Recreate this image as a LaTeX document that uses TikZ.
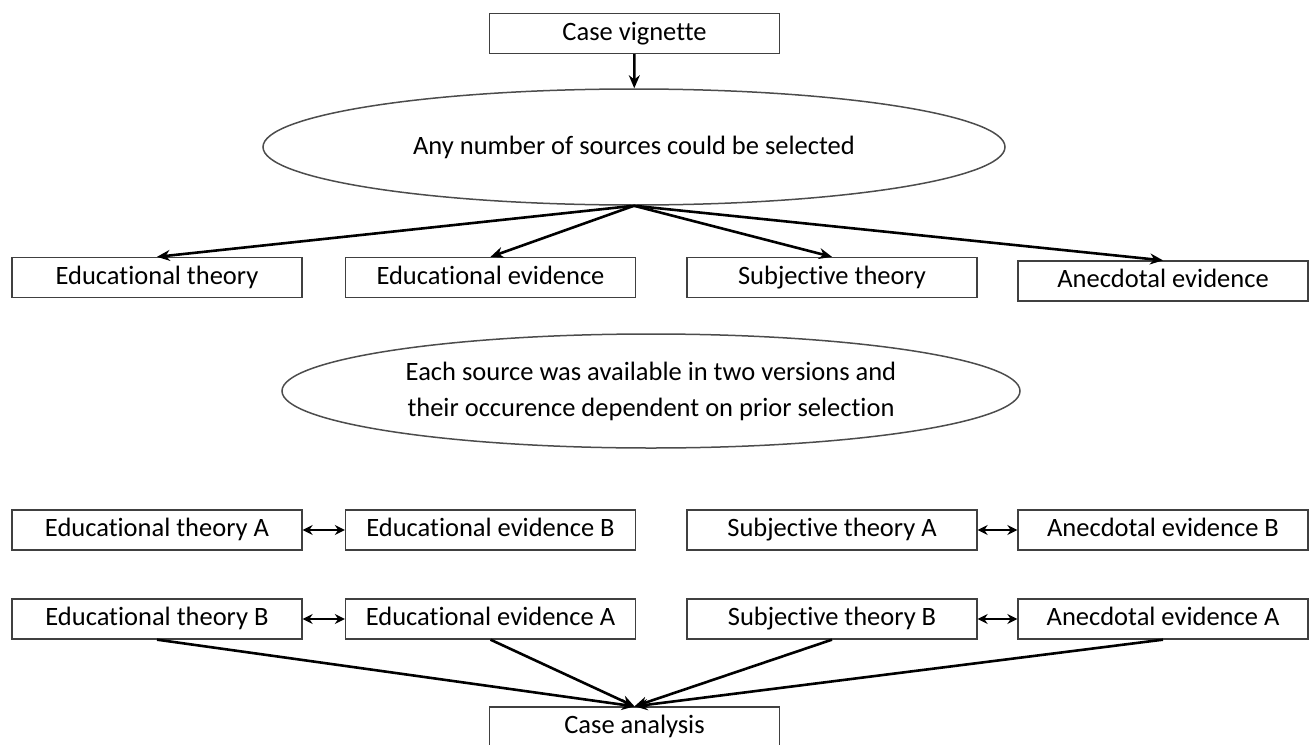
\documentclass[tikz,border=0pt]{standalone}
\usepackage{fontspec}
\setmainfont{Carlito}[Ligatures={NoCommon}]
\usetikzlibrary{shapes.geometric,arrows.meta}

\begin{document}
\begin{tikzpicture}[x=1pt,y=-1pt]
        \tikzset{box/.style={draw=black!75, line width=1.3pt, minimum width=290pt, minimum height=40pt, inner sep=0pt, text height=18pt, text depth=5pt, font=\fontsize{26.5}{36}\selectfont},
                 oval/.style={ellipse, draw=black!70, line width=1.5pt, inner sep=0pt, align=center, font=\fontsize{26.5}{36}\selectfont},
                 vector/.style={-{Stealth[length=13pt,width=11pt]}, line width=2.6pt},
                 pair/.style={{Stealth[length=10pt,width=10pt]}-{Stealth[length=10pt,width=10pt]}, line width=2.6pt}}
        \useasboundingbox (0,0) rectangle (1311,744);
        % columns and rows
        \pgfmathsetmacro{\ca}{157}
        \pgfmathsetmacro{\cb}{490.5}
        \pgfmathsetmacro{\cc}{832}
        \pgfmathsetmacro{\cd}{1163}
        \pgfmathsetmacro{\ra}{530}
        \pgfmathsetmacro{\rb}{619}
        \node[box] (vignette) at (634.5,33.5) {Case vignette};
        \node[oval, minimum width=742pt, minimum height=116pt] (select) at (634,147) {Any number of sources could be selected};
        \node[box] (edtheory) at (\ca,277.5) {Educational theory};
        \node[box] (edevidence) at (\cb,277.5) {Educational evidence};
        \node[box] (subtheory) at (\cc,277.5) {Subjective theory};
        \node[box] (anevidence) at (\cd,281) {Anecdotal evidence};
        \node[oval, minimum width=738pt, minimum height=114pt] (versions) at (651,391) {Each source was available in two versions and\\their occurence dependent on prior selection};
        \node[box] (edtheoryA) at (\ca,\ra) {Educational theory A};
        \node[box] (edevidenceB) at (\cb,\ra) {Educational evidence B};
        \node[box] (subtheoryA) at (\cc,\ra) {Subjective theory A};
        \node[box] (anevidenceB) at (\cd,\ra) {Anecdotal evidence B};
        \node[box] (edtheoryB) at (\ca,\rb) {Educational theory B};
        \node[box] (edevidenceA) at (\cb,\rb) {Educational evidence A};
        \node[box] (subtheoryB) at (\cc,\rb) {Subjective theory B};
        \node[box] (anevidenceA) at (\cd,\rb) {Anecdotal evidence A};
        \node[box] (analysis) at (634.5,727) {Case analysis};
        \draw[vector] (vignette) -- (select);
        \foreach \src in {edtheory, edevidence, subtheory, anevidence}
            \draw[vector] (select.south) -- (\src.north);
        \draw[pair] (edtheoryA) -- (edevidenceB);
        \draw[pair] (subtheoryA) -- (anevidenceB);
        \draw[pair] (edtheoryB) -- (edevidenceA);
        \draw[pair] (subtheoryB) -- (anevidenceA);
        \foreach \src in {edtheoryB, edevidenceA, subtheoryB, anevidenceA}
            \draw[vector] (\src.south) -- (analysis.north);
    \end{tikzpicture}
\end{document}
